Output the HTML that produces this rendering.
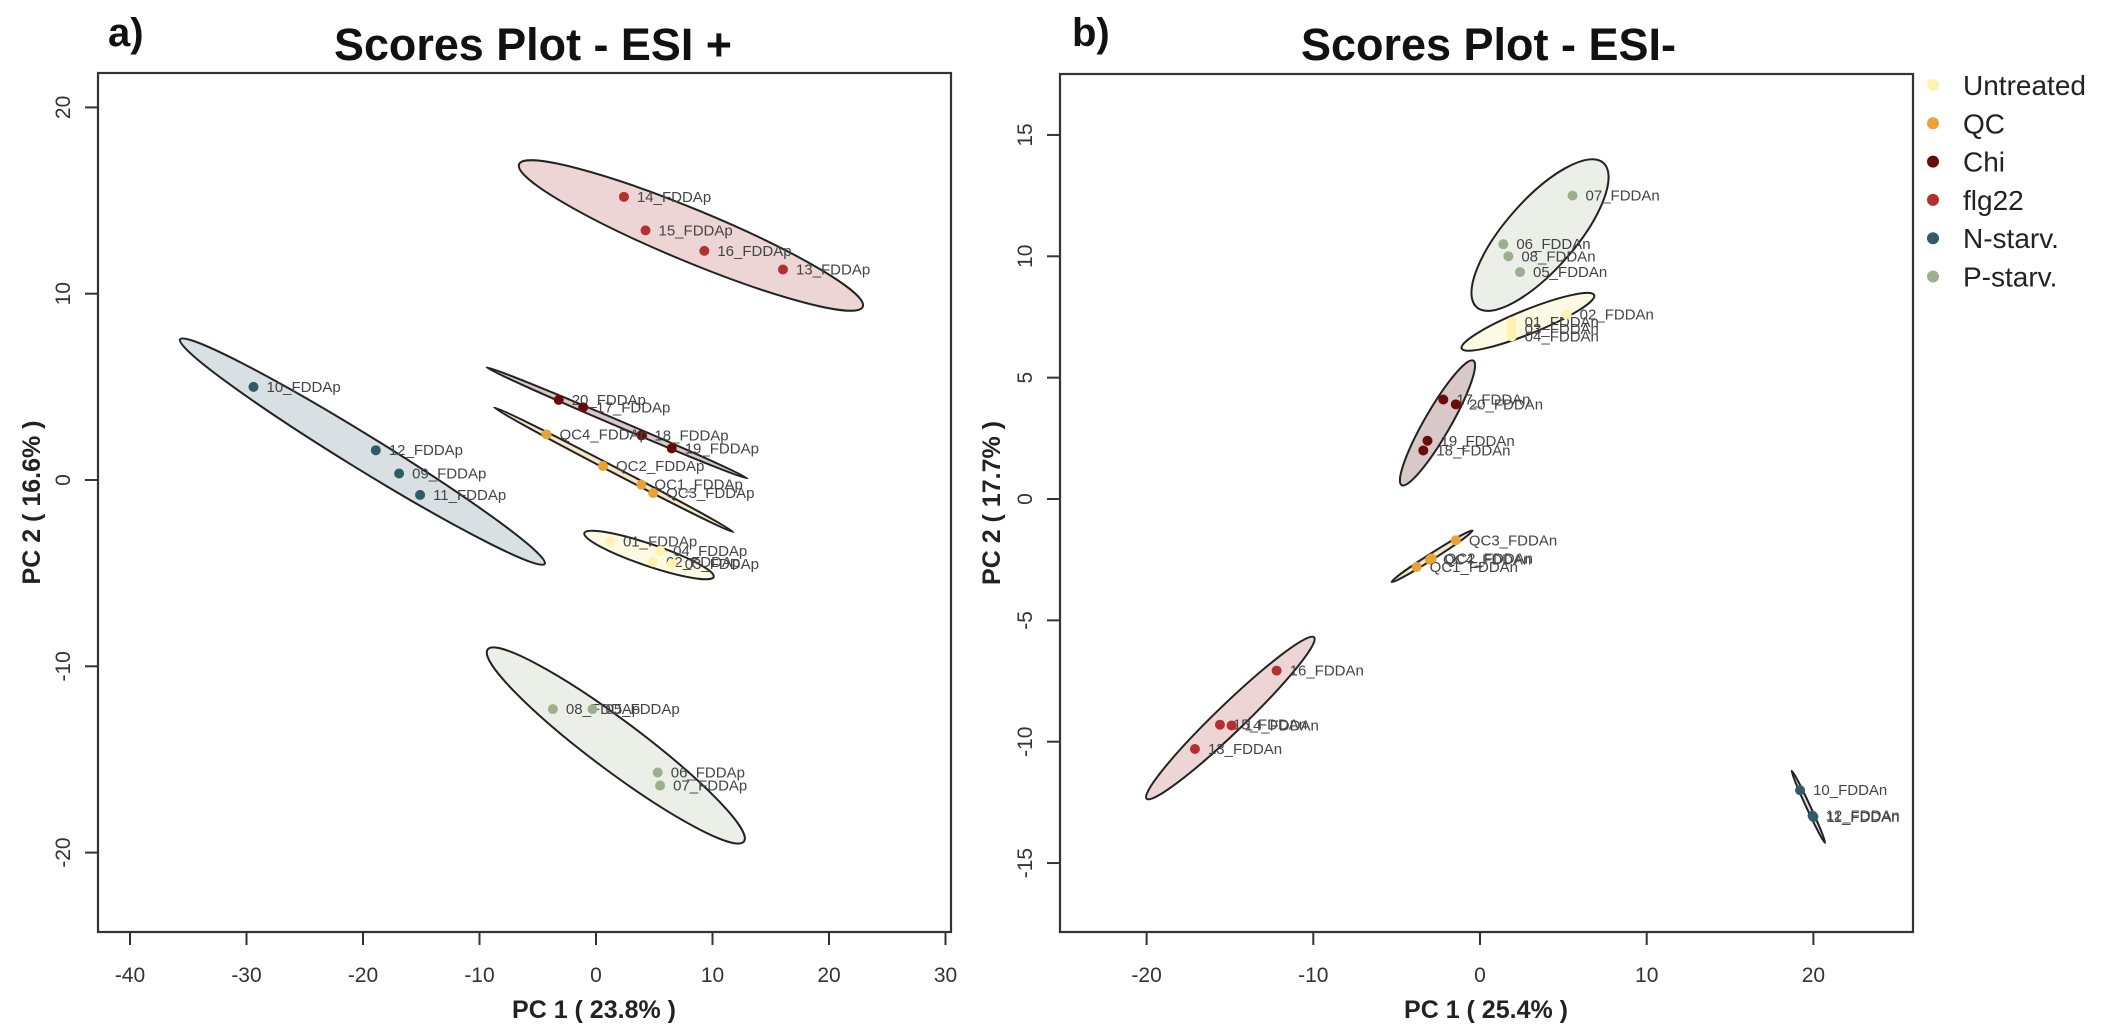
<!DOCTYPE html>
<html><head><meta charset="utf-8"><style>
html,body{margin:0;padding:0;background:#fff;}
svg{display:block;font-family:"Liberation Sans",Arial,sans-serif;}
</style></head><body>
<svg id="chart" width="2115" height="1035" viewBox="0 0 2115 1035" xmlns="http://www.w3.org/2000/svg">
<g id="pa"></g>
<g id="pb"></g>
<g id="legend"></g>
</svg>
<script>
// ---- data ----
const groups = ["Untreated","QC","Chi","flg22","N-starv.","P-starv."];
const groupColors = ["#fdf3ae","#eaa236","#6a0b0b","#b3302f","#2f5b6a","#9daf8f"];
const ellipseFill = ["#fcfae2","#f6e6c8","#d9c8c8","#eed5d5","#d8e0e4","#ecefe8"];

const aXTicks = [-40,-30,-20,-10,0,10,20,30];
const aYTicks = [-20,-10,0,10,20];
const aLabels = ["14_FDDAp","15_FDDAp","16_FDDAp","13_FDDAp","10_FDDAp","12_FDDAp","09_FDDAp","11_FDDAp","20_FDDAp","17_FDDAp","18_FDDAp","19_FDDAp","QC4_FDDAp","QC2_FDDAp","QC1_FDDAp","QC3_FDDAp","01_FDDAp","04_FDDAp","02_FDDAp","03_FDDAp","08_FDDAp","05_FDDAp","06_FDDAp","07_FDDAp"];
const aGroup = [3,3,3,3,4,4,4,4,2,2,2,2,1,1,1,1,0,0,0,0,5,5,5,5];
const aPC1 = [2.4,4.25,9.3,16.05,-29.4,-18.9,-16.9,-15.1,-3.2,-1.1,3.9,6.5,-4.25,0.6,3.9,4.9,1.2,5.5,4.9,6.5,-3.7,-0.3,5.3,5.5];
const aPC2 = [15.2,13.4,12.3,11.3,5.0,1.6,0.35,-0.8,4.3,3.9,2.4,1.7,2.45,0.75,-0.25,-0.7,-3.3,-3.8,-4.4,-4.5,-12.3,-12.3,-15.7,-16.4];
const aEllX1 = [-1.0,-8.75,-9.4,-6.6,-35.7,-9.3];
const aEllY1 = [-2.85,3.9,6.05,16.95,7.55,-9.1];
const aEllX2 = [10.1,11.8,13.0,22.9,-4.4,12.7];
const aEllY2 = [-5.2,-2.8,0.08,9.3,-4.5,-19.4];
const aEllW = [11,3,3,26,17,25];

const bXTicks = [-20,-10,0,10,20];
const bYTicks = [-15,-10,-5,0,5,10,15];
const bLabels = ["07_FDDAn","06_FDDAn","08_FDDAn","05_FDDAn","01_FDDAn","02_FDDAn","03_FDDAn","04_FDDAn","17_FDDAn","20_FDDAn","19_FDDAn","18_FDDAn","QC3_FDDAn","QC4_FDDAn","QC1_FDDAn","QC2_FDDAn","10_FDDAn","12_FDDAn","11_FDDAn","16_FDDAn","15_FDDAn","14_FDDAn","13_FDDAn"];
const bGroup = [5,5,5,5,0,0,0,0,2,2,2,2,1,1,1,1,4,4,4,3,3,3,3];
const bPC1 = [5.55,1.4,1.7,2.4,1.9,5.2,1.9,1.9,-2.2,-1.45,-3.15,-3.4,-1.45,-3.0,-3.8,-2.9,19.2,19.95,20.0,-12.2,-15.6,-14.9,-17.1];
const bPC2 = [12.5,10.5,10.0,9.35,7.3,7.6,7.0,6.7,4.1,3.9,2.4,2.0,-1.7,-2.5,-2.8,-2.45,-12.0,-13.05,-13.1,-7.07,-9.3,-9.33,-10.3];
const bEllX1 = [-1.1,-5.3,-4.7,-20.0,18.7,-0.2];
const bEllY1 = [6.2,-3.42,0.57,-12.35,-11.2,7.9];
const bEllX2 = [6.85,-0.45,-0.4,-9.95,20.7,7.4];
const bEllY2 = [8.4,-1.3,5.7,-5.7,-14.17,13.85];
const bEllW = [12,3,13,14,2,35];

const NS="http://www.w3.org/2000/svg";
function mk(parent,tag,attrs,text){const e=document.createElementNS(NS,tag);for(const k in attrs)e.setAttribute(k,attrs[k]);if(text!==undefined)e.textContent=text;parent.appendChild(e);return e;}

function panel(g,cfg){
  const sx=v=>cfg.x0+v*cfg.kx, sy=v=>cfg.y0-v*cfg.ky;
  const box=mk(g,'rect',{x:cfg.L,y:cfg.T,width:cfg.R-cfg.L,height:cfg.B-cfg.T,fill:'none',stroke:'#333','stroke-width':2.2});
  
  
  cfg.xt.forEach(t=>{
    const l=mk(g,'line',{x1:sx(t),x2:sx(t),y1:cfg.B,y2:cfg.B+13,stroke:'#333','stroke-width':2});
    
    
    const tx=mk(g,'text',{x:sx(t),y:cfg.B+50,'text-anchor':'middle','font-size':21,fill:'#333'},String(t));
    
    
  });
  cfg.yt.forEach(t=>{
    const l=mk(g,'line',{x1:cfg.L-13,x2:cfg.L,y1:sy(t),y2:sy(t),stroke:'#333','stroke-width':2});
    
    
    const tx=mk(g,'text',{x:cfg.L-28,y:sy(t),'text-anchor':'middle','font-size':21,fill:'#333',transform:`rotate(-90 ${cfg.L-28} ${sy(t)})`},String(t));
    
    
  });
  for(let i=0;i<cfg.ex1.length;i++){
    const x1=sx(cfg.ex1[i]),y1=sy(cfg.ey1[i]),x2=sx(cfg.ex2[i]),y2=sy(cfg.ey2[i]);
    const cx=(x1+x2)/2,cy=(y1+y2)/2,rx=Math.hypot(x2-x1,y2-y1)/2,ang=Math.atan2(y2-y1,x2-x1)*180/Math.PI;
    const e=mk(g,'ellipse',{cx:cx,cy:cy,rx:rx,ry:cfg.ew[i],transform:`rotate(${ang} ${cx} ${cy})`,fill:ellipseFill[i],stroke:'#222','stroke-width':2});
    
    
  }
  for(let i=0;i<cfg.px.length;i++){
    const c=mk(g,'circle',{cx:sx(cfg.px[i]),cy:sy(cfg.py[i]),r:5,fill:groupColors[cfg.pg[i]]});
    
    
    const t=mk(g,'text',{x:sx(cfg.px[i])+13,y:sy(cfg.py[i])+5,'font-size':15,fill:'#444'},cfg.lab[i]);
    
    
  }
  const xl=mk(g,'text',{x:cfg.xlx,y:1018,'text-anchor':'middle','font-size':25,'font-weight':'bold',fill:'#222'},cfg.xlab);
  
  
  const yc=(cfg.T+cfg.B)/2;
  const yl=mk(g,'text',{x:cfg.ylx,y:yc,'text-anchor':'middle','font-size':25,'font-weight':'bold',fill:'#222',transform:`rotate(-90 ${cfg.ylx} ${yc})`},cfg.ylab);
  
  
  const ti=mk(g,'text',{x:cfg.tx,y:60,'font-size':45,'font-weight':'bold',fill:'#111',textLength:cfg.tw,lengthAdjust:'spacingAndGlyphs'},cfg.title);
  
  
  const pl=mk(g,'text',{x:cfg.plx,y:46,'font-size':40,'font-weight':'bold',fill:'#111'},cfg.pl);
  
  
}

panel(document.getElementById('pa'),{L:98,R:951,T:73,B:932,x0:596,kx:11.65,y0:480,ky:18.63,xt:aXTicks,yt:aYTicks,
  ex1:aEllX1,ey1:aEllY1,ex2:aEllX2,ey2:aEllY2,ew:aEllW,px:aPC1,py:aPC2,pg:aGroup,lab:aLabels,
  xlab:"PC 1 ( 23.8% )",xlx:594,ylab:"PC 2 ( 16.6% )",ylx:40,title:"Scores Plot - ESI +",tx:334,tw:398,pl:"a)",plx:108});
panel(document.getElementById('pb'),{L:1060,R:1913,T:74,B:932,x0:1480,kx:16.67,y0:499,ky:24.27,xt:bXTicks,yt:bYTicks,
  ex1:bEllX1,ey1:bEllY1,ex2:bEllX2,ey2:bEllY2,ew:bEllW,px:bPC1,py:bPC2,pg:bGroup,lab:bLabels,
  xlab:"PC 1 ( 25.4% )",xlx:1486,ylab:"PC 2 ( 17.7% )",ylx:1000,title:"Scores Plot - ESI-",tx:1301,tw:375,pl:"b)",plx:1072});

const lg=document.getElementById('legend');
groups.forEach((gname,i)=>{
  const y=85+i*38.3;
  const c=mk(lg,'circle',{cx:1933,cy:y,r:6,fill:groupColors[i]});
  
  
  const t=mk(lg,'text',{x:1963,y:y+10,'font-size':28,fill:'#222'},gname);
  
  
});
</script>
</body></html>
